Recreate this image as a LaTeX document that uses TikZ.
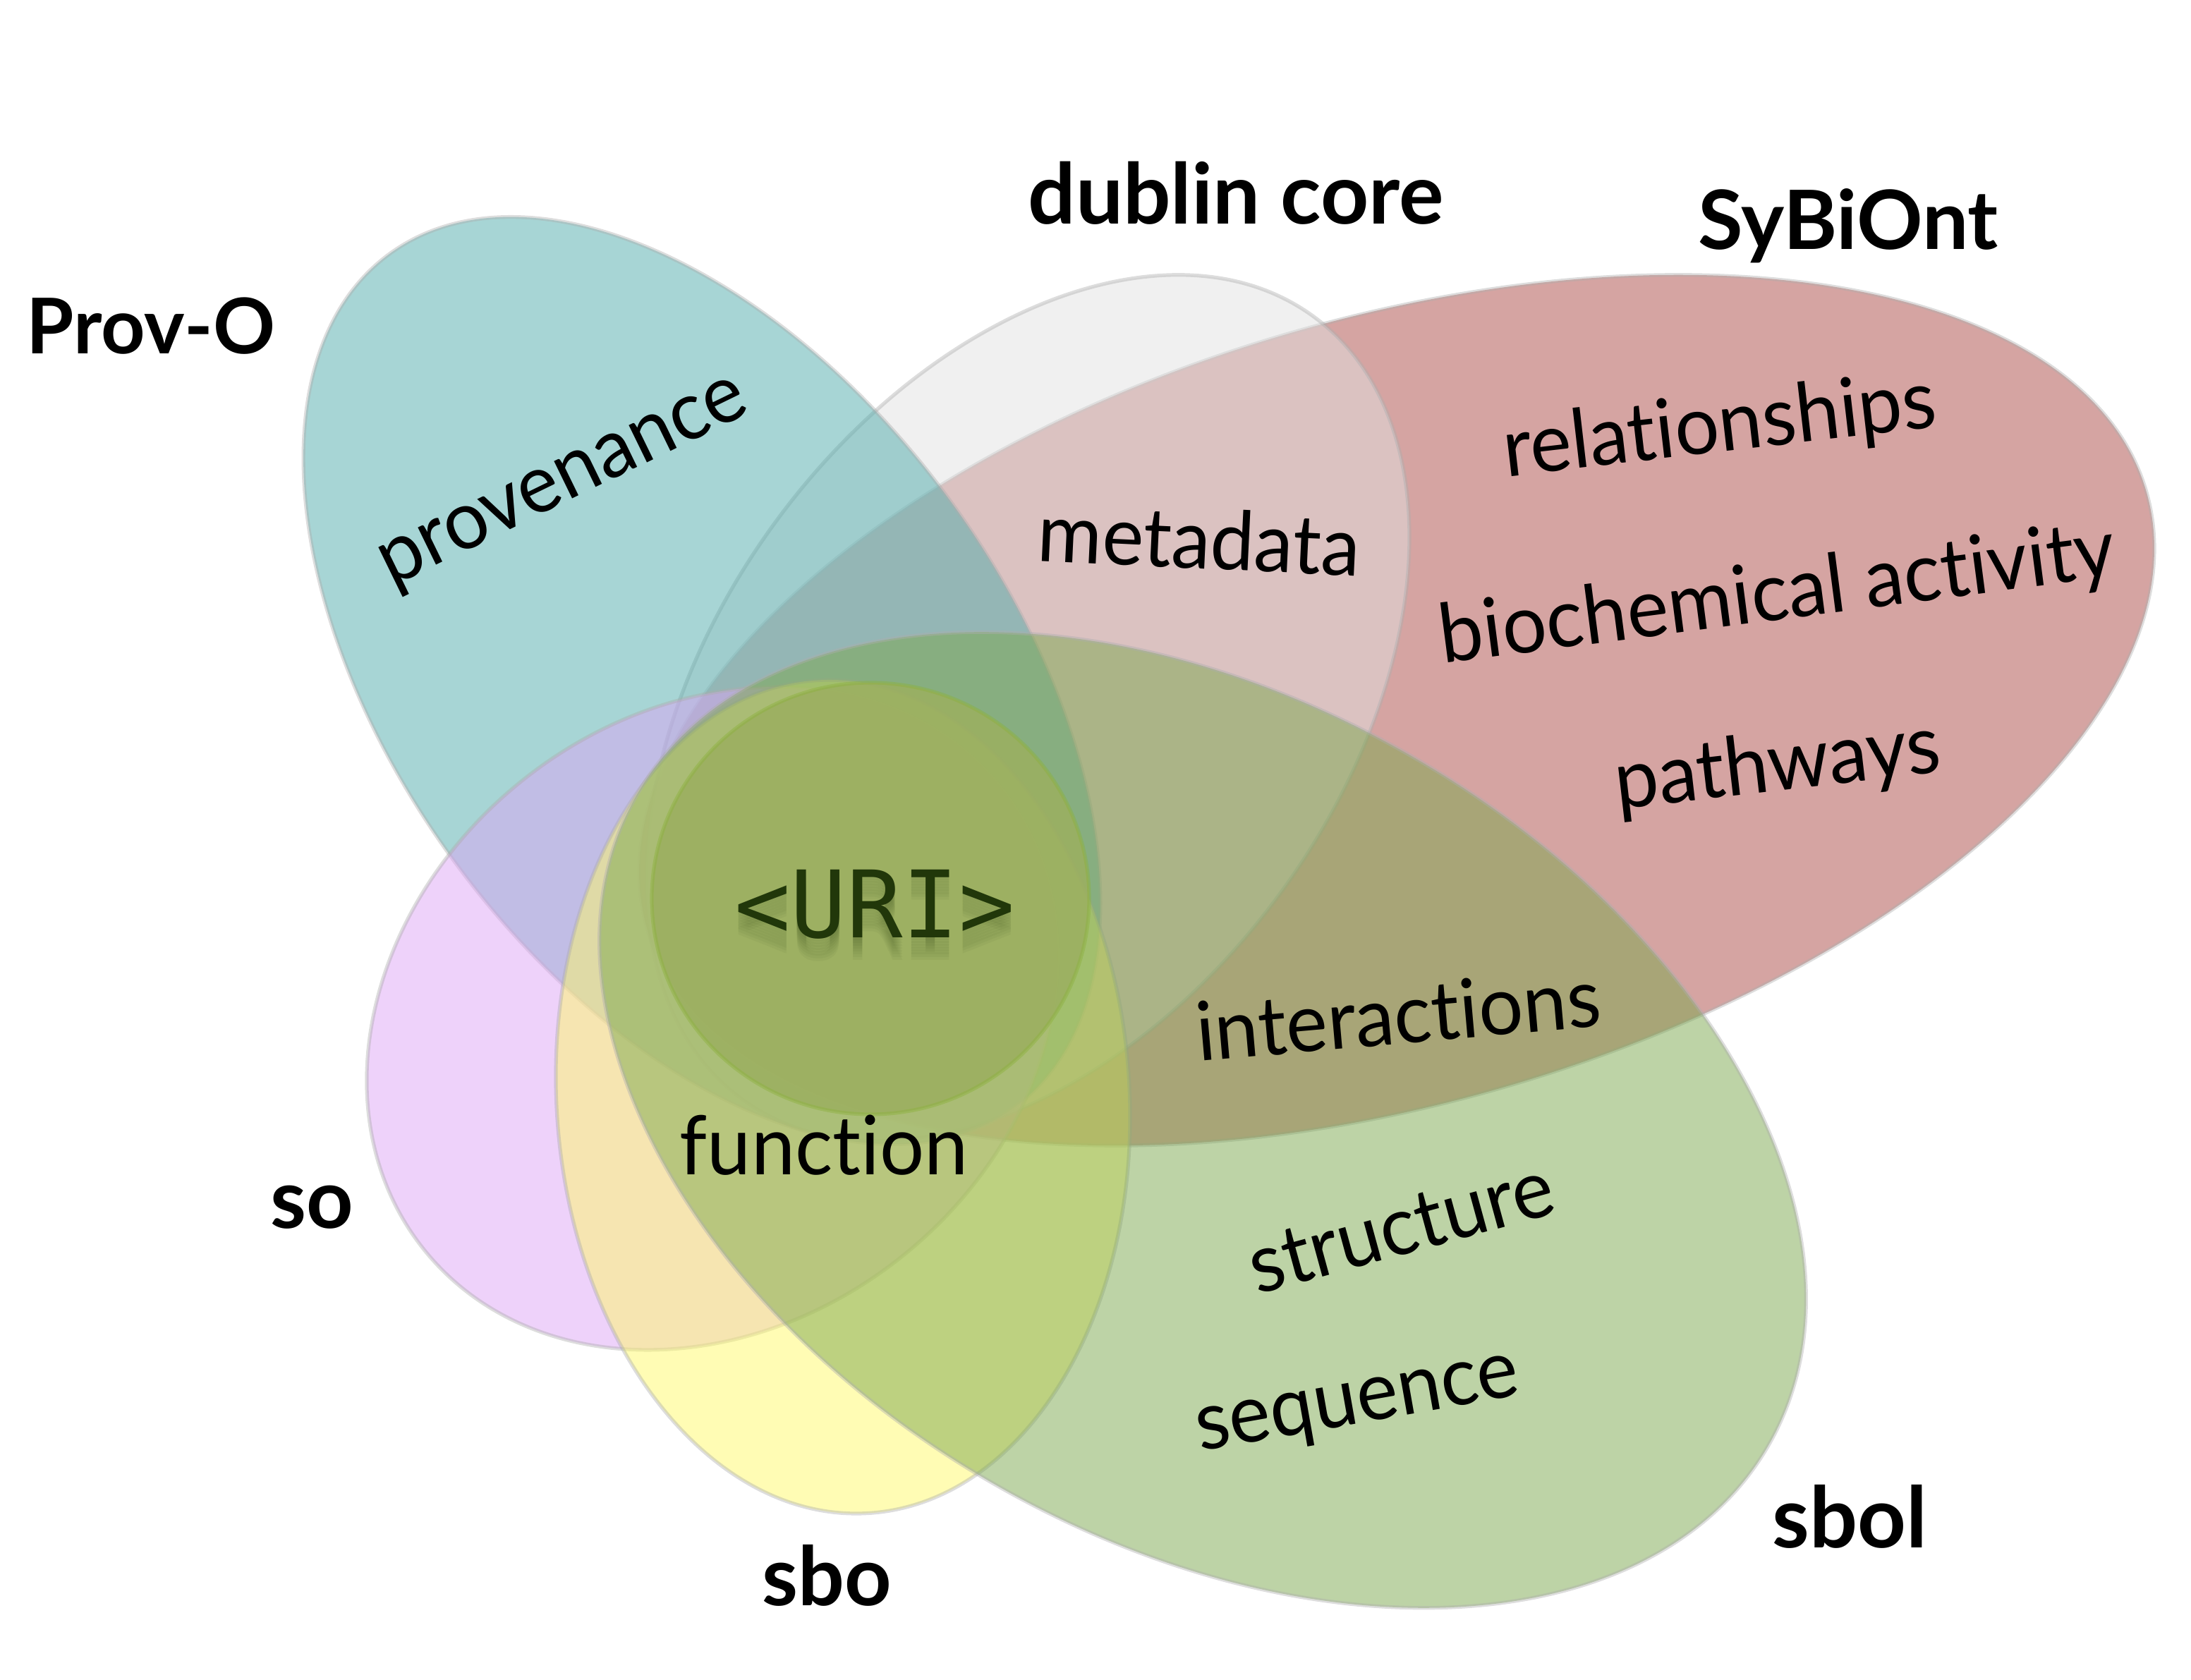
\documentclass[tikz,border=0pt]{standalone}
\usepackage{fontspec}
\setmainfont{Lato}[Ligatures=NoCommon]
\newfontfamily\bodyfont{Lato}[FakeStretch=0.96, Ligatures=NoCommon]
\newfontfamily\urifont{DejaVu Sans Mono}
\definecolor{cteal}{RGB}{79,171,171}
\definecolor{cgray}{RGB}{225,225,225}
\definecolor{cred}{RGB}{171,73,69}
\definecolor{cgreen}{RGB}{123,167,77}
\definecolor{cpurple}{RGB}{221,165,245}
\definecolor{cyellow}{RGB}{255,249,105}
\definecolor{curi}{RGB}{156,175,96}
\definecolor{curiedge}{RGB}{140,178,62}
\definecolor{uritext}{RGB}{33,55,10}
\tikzset{
  setshape/.style={draw=black!32, draw opacity=0.42, line width=2.6pt, fill opacity=0.5},
  lab/.style={font=\bfseries\fontsize{58}{64}\selectfont, text=black, inner sep=0pt},
  body/.style={font=\bodyfont\fontsize{58}{64}\selectfont, text=black, inner sep=0pt},
  uri/.style={font=\urifont\fontsize{66}{70}\selectfont, inner sep=0pt},
}
\begin{document}
\begin{tikzpicture}[x=1pt,y=1pt]
\useasboundingbox (0,0) rectangle (1553,1191);
% sets
\draw[setshape, fill=cred]    (990,687.5) ellipse [x radius=553.5pt, y radius=277.8pt, rotate=16.3];
\draw[setshape, fill=cgray]   (728.5,689.2) ellipse [x radius=343.5pt, y radius=222.1pt, rotate=53.9];
\draw[setshape, fill=cteal]   (497.5,708.5) ellipse [x radius=374.9pt, y radius=217.3pt, rotate=-53.8];
\draw[setshape, fill=cpurple] (504.8,469) ellipse [x radius=261.9pt, y radius=215.8pt, rotate=38.8];
\draw[setshape, fill=cyellow] (597.5,413.5) ellipse [x radius=295.8pt, y radius=203.1pt, rotate=-86.5];
\draw[setshape, fill=cgreen]  (852.5,397) ellipse [x radius=462.6pt, y radius=297.4pt, rotate=-29.9];
\draw[draw=curiedge, draw opacity=0.45, line width=2.6pt, fill=curi, fill opacity=0.85] (617,554) ellipse [x radius=155pt, y radius=153pt];
% URI with soft shadow
\foreach \d in {2,4,6,8,10,12,14,16}{
  \node[uri, text=uritext, text opacity=0.045] at (620,550-\d) {<URI>};
}
\node[uri, text=uritext] (uri) at (620,550) {<URI>};
% labels
\node[lab, font=\bfseries\fontsize{54.5}{60}\selectfont] (provo) at (107,960) {Prov-O};
\node[lab, font=\bfseries\fontsize{59.5}{64}\selectfont] (dublin) at (876,1054) {dublin core};
\node[lab] (sybiont) at (1310,1031) {SyBiOnt};
\node[lab] (so) at (221,335) {so};
\node[lab] (sbo) at (586,74) {sbo};
\node[lab, font=\bfseries\fontsize{60}{64}\selectfont] (sbol) at (1311,116) {sbol};
% contents
\node[body, rotate=26] (prov) at (401,846) {provenance};
\node[body, rotate=-2.7] (meta) at (850,809) {metadata};
\node[body, rotate=6.6] (rel) at (1219,887) {relationships};
\node[body, rotate=7.4] (bio) at (1260,768) {biochemical activity};
\node[body, rotate=6.6] (path) at (1260,647) {pathways};
\node[body, rotate=5] (inter) at (991,472) {interactions};
\node[body] (func) at (584,379) {function};
\node[body, rotate=15.3] (struct) at (993,321) {structure};
\node[body, rotate=10] (seq) at (963,192) {sequence};
\end{tikzpicture}
\end{document}
